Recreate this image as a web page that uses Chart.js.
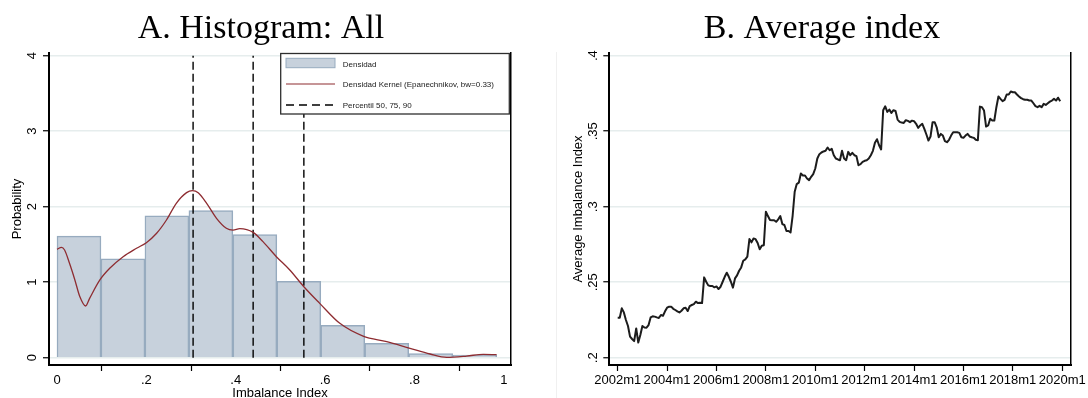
<!DOCTYPE html>
<html><head><meta charset="utf-8">
<script src="https://cdn.jsdelivr.net/npm/chart.js@4.4.1/dist/chart.umd.min.js"></script>
<style>
html,body{margin:0;padding:0;background:#fff;}
#wrap{position:relative;width:1088px;height:398px;overflow:hidden;background:#fff;}
.pane{position:absolute;top:0;width:544px;height:398px;}
#sep{position:absolute;left:556px;top:52px;width:1px;height:346px;background:#f0f0f0;}
</style></head><body>
<div id="wrap">
<div class="pane" style="left:0"><canvas id="cA" width="544" height="398"></canvas></div>
<div id="sep"></div>
<div class="pane" style="left:544px"><canvas id="cB" width="544" height="398"></canvas></div>
</div>
<script>
// ---------- Panel A data ----------
const binCenters = [0.0492, 0.1476, 0.2460, 0.3444, 0.4428, 0.5412, 0.6396, 0.7380, 0.8364, 0.9348];
const binHeights = [1.61, 1.31, 1.88, 1.95, 1.63, 1.01, 0.43, 0.19, 0.056, 0.035];
const kernelX = [0, 0.010, 0.017, 0.028, 0.040, 0.051, 0.064, 0.073, 0.096, 0.118, 0.148, 0.178, 0.200, 0.223, 0.245, 0.267, 0.290, 0.303, 0.316, 0.335, 0.357, 0.379, 0.394, 0.409, 0.439, 0.461, 0.491, 0.521, 0.5525, 0.588, 0.633, 0.685, 0.738, 0.790, 0.835, 0.872, 0.917, 0.954, 0.984];
const kernelY = [1.436, 1.462, 1.426, 1.25, 1.03, 0.81, 0.685, 0.786, 1.03, 1.184, 1.338, 1.449, 1.523, 1.648, 1.824, 2.045, 2.186, 2.212, 2.186, 2.045, 1.846, 1.714, 1.691, 1.709, 1.66, 1.537, 1.338, 1.162, 0.94, 0.72, 0.455, 0.287, 0.212, 0.124, 0.049, 0.005, 0.022, 0.045, 0.04];
const percentiles = [0.3046, 0.439, 0.5525];
const percentileTop = 4;
const histXTicks = [0, 0.2, 0.4, 0.6, 0.8, 1];
const histXTickLabels = ['0', '.2', '.4', '.6', '.8', '1'];
const histYTicks = [0, 1, 2, 3, 4];
const histYTickLabels = ['0', '1', '2', '3', '4'];
const legendLabels = ['Densidad', 'Densidad Kernel (Epanechnikov, bw=0.33)', 'Percentil 50, 75, 90'];

// ---------- Panel B data (monthly, 2002m1 .. 2019m12) ----------
const avgIndex = [
  0.2265,0.2265,0.2327,0.2300,0.2250,0.2210,0.2140,0.2124,0.2110,0.2194,0.2100,0.2150,
  0.2210,0.2200,0.2199,0.2216,0.2267,0.2274,0.2272,0.2267,0.2263,0.2283,0.2278,0.2307,
  0.2331,0.2338,0.2338,0.2324,0.2316,0.2307,0.2300,0.2311,0.2327,0.2331,0.2309,0.2342,
  0.2349,0.2355,0.2371,0.2362,0.2364,0.2362,0.2532,0.2503,0.2479,0.2475,0.2475,0.2466,
  0.2472,0.2455,0.2470,0.2503,0.2536,0.2563,0.2536,0.2503,0.2464,0.2525,0.2545,0.2576,
  0.2598,0.2642,0.2651,0.2669,0.2786,0.2764,0.2790,0.2785,0.2760,0.2718,0.2742,0.2745,
  0.2967,0.2938,0.2912,0.2910,0.2910,0.2900,0.2916,0.2938,0.2885,0.2879,0.2839,0.2839,
  0.2830,0.2940,0.3099,0.3150,0.3159,0.3220,0.3207,0.3207,0.3187,0.3176,0.3198,0.3216,
  0.3253,0.3319,0.3348,0.3359,0.3366,0.3370,0.3392,0.3374,0.3383,0.3341,0.3319,0.3313,
  0.3308,0.3370,0.3319,0.3308,0.3363,0.3341,0.3357,0.3341,0.3335,0.3275,0.3282,0.3297,
  0.3304,0.3308,0.3319,0.3341,0.3370,0.3423,0.3447,0.3407,0.3379,0.3639,0.3665,0.3628,
  0.3643,0.3621,0.3639,0.3634,0.3577,0.3562,0.3557,0.3555,0.3573,0.3568,0.3560,0.3570,
  0.3566,0.3549,0.3522,0.3538,0.3549,0.3515,0.3478,0.3438,0.3465,0.3560,0.3560,0.3526,
  0.3460,0.3482,0.3471,0.3434,0.3427,0.3443,0.3471,0.3493,0.3493,0.3493,0.3489,0.3460,
  0.3456,0.3471,0.3482,0.3465,0.3460,0.3456,0.3443,0.3440,0.3663,0.3659,0.3637,0.3531,
  0.3538,0.3582,0.3571,0.3571,0.3659,0.3730,0.3714,0.3699,0.3708,0.3743,0.3743,0.3763,
  0.3758,0.3758,0.3743,0.3730,0.3719,0.3712,0.3708,0.3708,0.3703,0.3703,0.3685,0.3666,
  0.3659,0.3668,0.3659,0.3681,0.3674,0.3685,0.3696,0.3703,0.3714,0.3703,0.3722,0.3699
];
const timeTickMonths = [0, 24, 48, 72, 96, 120, 144, 168, 192, 216];
const timeTickLabels = ['2002m1','2004m1','2006m1','2008m1','2010m1','2012m1','2014m1','2016m1','2018m1','2020m1'];
const avgYTicks = [0.2, 0.25, 0.3, 0.35, 0.4];
const avgYTickLabels = ['.2', '.25', '.3', '.35', '.4'];

// ---------- styling ----------
Chart.defaults.font.family = "'Liberation Sans', Arial, Helvetica, sans-serif";
Chart.defaults.font.size = 13;
Chart.defaults.color = '#000';
const BAR_FILL = '#c7d1dc';
const BAR_LINE = '#97abbf';
const KERNEL = '#8e2c31';
const GRID = '#e6eded';
const titleFont = {family: "'Liberation Serif', 'Times New Roman', serif", size: 34, weight: 'normal', lineHeight: 1};
const titlePadding = {top: 12, bottom: 7};

function fixedTicks(values) {
  return function (scale) { scale.ticks = values.map(v => ({value: v})); };
}

const legendBox = {
  id: 'legendBox',
  afterDraw(chart) {
    const ctx = chart.ctx, a = chart.chartArea;
    const x0 = 280.7, y0 = a.top + 0.5, x1 = a.right - 1.7, y1 = 114;
    ctx.save();
    ctx.fillStyle = '#fff';
    ctx.fillRect(x0, y0, x1 - x0, y1 - y0);
    ctx.strokeStyle = '#2e2e2e';
    ctx.lineWidth = 1.3;
    ctx.strokeRect(x0, y0, x1 - x0, y1 - y0);
    ctx.fillStyle = BAR_FILL;
    ctx.fillRect(286, 58.3, 49, 9.4);
    ctx.strokeStyle = BAR_LINE; ctx.lineWidth = 1;
    ctx.strokeRect(286, 58.3, 49, 9.4);
    ctx.strokeStyle = KERNEL; ctx.lineWidth = 1.2;
    ctx.beginPath(); ctx.moveTo(286, 84); ctx.lineTo(335, 84); ctx.stroke();
    ctx.strokeStyle = '#000'; ctx.lineWidth = 1.3; ctx.setLineDash([8, 5]);
    ctx.beginPath(); ctx.moveTo(286, 105); ctx.lineTo(335, 105); ctx.stroke();
    ctx.setLineDash([]);
    ctx.fillStyle = '#1a1a1a';
    ctx.font = "8px 'Liberation Sans', Arial, sans-serif";
    ctx.textBaseline = 'middle'; ctx.textAlign = 'left';
    ctx.fillText(legendLabels[0], 342.7, 64.5);
    ctx.fillText(legendLabels[1], 342.7, 84.5);
    ctx.fillText(legendLabels[2], 342.7, 105.5);
    ctx.restore();
  }
};

// ---------- Panel A ----------
const histDatasets = [
  {
    type: 'bar', label: legendLabels[0],
    data: binCenters.map((x, i) => ({x: x, y: binHeights[i]})),
    backgroundColor: BAR_FILL, borderColor: BAR_LINE, borderWidth: 1.5,
    barPercentage: 1, categoryPercentage: 1, grouped: false, order: 3
  },
  ...percentiles.map(p => ({
    type: 'line', label: legendLabels[2],
    data: [{x: p, y: 0}, {x: p, y: percentileTop}],
    borderColor: '#000', borderWidth: 1.4, borderDash: [8, 4],
    pointRadius: 0, fill: false, order: 2
  })),
  {
    type: 'line', label: legendLabels[1],
    data: kernelX.map((x, i) => ({x: x, y: kernelY[i]})),
    borderColor: KERNEL, borderWidth: 1.3, pointRadius: 0, fill: false,
    cubicInterpolationMode: 'monotone', order: 1
  }
];

new Chart(document.getElementById('cA'), {
  type: 'line',
  data: {datasets: histDatasets},
  options: {
    responsive: false, animation: false, devicePixelRatio: 1,
    layout: {padding: {left: 0, right: 22, top: 0, bottom: 0}},
    plugins: {
      legend: {display: false}, tooltip: {enabled: false},
      title: {display: true, text: 'A. Histogram: All', font: titleFont, color: '#000', padding: titlePadding}
    },
    scales: {
      x: {
        type: 'linear', min: -0.0179, max: 1.0161, offset: false,
        afterBuildTicks: fixedTicks(histXTicks),
        afterFit: s => { s.height = 33; },
        ticks: {callback: (v, i) => histXTickLabels[i], padding: 1.2, autoSkip: false, maxRotation: 0, minRotation: 0, color: '#000'},
        grid: {drawOnChartArea: false, drawTicks: true, tickLength: 6, tickColor: '#000', tickWidth: 1.2},
        border: {display: true, color: '#000', width: 2},
        title: {display: true, text: 'Imbalance Index', color: '#000', font: {size: 13}, padding: {top: 0, bottom: -2.8}}
      },
      y: {
        type: 'linear', position: 'left', min: -0.0967, max: 4.0358,
        afterBuildTicks: fixedTicks(histYTicks),
        afterFit: s => { s.width = 49; },
        ticks: {callback: (v, i) => histYTickLabels[i], minRotation: 90, maxRotation: 90, crossAlign: 'center', padding: 6.9, color: '#000'},
        grid: {color: GRID, lineWidth: 1.5, drawTicks: true, tickLength: 6, tickColor: '#000', tickWidth: 1.2},
        border: {display: true, color: '#000', width: 2},
        title: {display: true, text: 'Probability', color: '#000', font: {size: 13}, padding: {top: 9.7, bottom: 0}}
      },
      y2: {
        type: 'linear', position: 'right', min: -0.0967, max: 4.0358,
        afterFit: s => { s.width = 11; },
        ticks: {display: false},
        grid: {display: false, drawTicks: false},
        border: {display: true, color: '#000', width: 1.5}
      }
    }
  },
  plugins: [legendBox]
});

// ---------- Panel B ----------
new Chart(document.getElementById('cB'), {
  type: 'line',
  data: {
    datasets: [{
      label: 'Average Imbalance Index',
      data: avgIndex.map((v, i) => ({x: i, y: v})),
      borderColor: '#1c1c1c', borderWidth: 2, pointRadius: 0, fill: false,
      tension: 0, borderJoinStyle: 'round'
    }]
  },
  options: {
    responsive: false, animation: false, devicePixelRatio: 1,
    layout: {padding: {left: 12, right: 0, top: 0, bottom: 0}},
    plugins: {
      legend: {display: false}, tooltip: {enabled: false},
      title: {display: true, text: 'B. Average index', font: titleFont, color: '#000', padding: titlePadding}
    },
    scales: {
      x: {
        type: 'linear', min: -4.08, max: 220.26, offset: false,
        afterBuildTicks: fixedTicks(timeTickMonths),
        afterFit: s => { s.height = 33; },
        ticks: {callback: (v, i) => timeTickLabels[i], padding: 1.2, autoSkip: false, maxRotation: 0, minRotation: 0, color: '#000'},
        grid: {drawOnChartArea: false, drawTicks: true, tickLength: 6, tickColor: '#000', tickWidth: 1.2},
        border: {display: true, color: '#000', width: 2}
      },
      y: {
        type: 'linear', position: 'left', min: 0.19517, max: 0.40179,
        afterBuildTicks: fixedTicks(avgYTicks),
        afterFit: s => { s.width = 53.3; },
        ticks: {callback: (v, i) => avgYTickLabels[i], minRotation: 90, maxRotation: 90, crossAlign: 'center', padding: 0.95, color: '#000'},
        grid: {color: GRID, lineWidth: 1.5, drawTicks: true, tickLength: 6, tickColor: '#000', tickWidth: 1.2},
        border: {display: true, color: '#000', width: 2},
        title: {display: true, text: 'Average Imbalance Index', color: '#000', font: {size: 13}, padding: {top: 14.5, bottom: 0}}
      },
      y2: {
        type: 'linear', position: 'right', min: 0.19517, max: 0.40179,
        afterFit: s => { s.width = 17; },
        ticks: {display: false},
        grid: {display: false, drawTicks: false},
        border: {display: true, color: '#000', width: 1.5}
      }
    }
  }
});
</script>
</body></html>
